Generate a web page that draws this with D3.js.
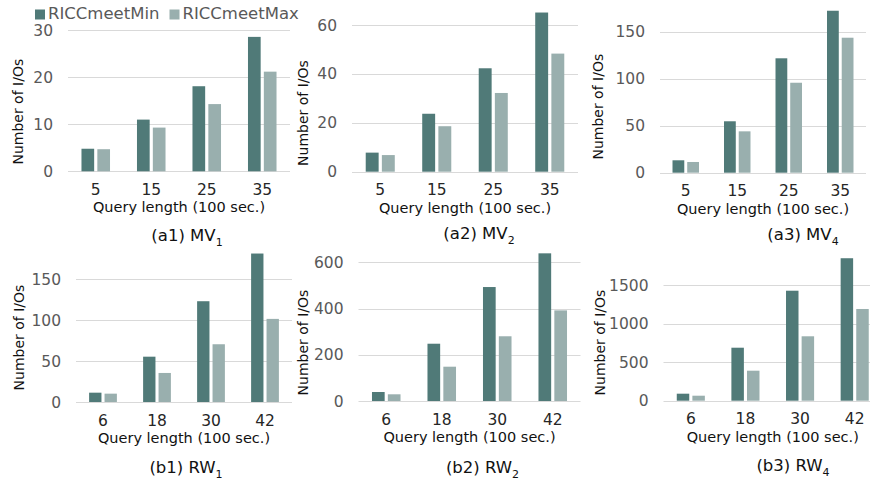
<!DOCTYPE html>
<html>
<head>
<meta charset="utf-8">
<script src="https://cdn.jsdelivr.net/npm/d3@7"></script>
<style>
  body { margin: 0; background: #fff; }
  svg { display: block; font-family: "DejaVu Sans", sans-serif; }
</style>
</head>
<body>
<div id="chart"></div>
<script>
var series = ["RICCmeetMin", "RICCmeetMax"];
var colors = ["#507a78", "#99afae"];

var catsA = ["5", "15", "25", "35"];
var catsB = ["6", "18", "30", "42"];

var mv1Min = [4.8, 11.0, 18.1, 28.6];
var mv1Max = [4.7, 9.3, 14.3, 21.2];
var mv2Min = [7.8, 23.7, 42.3, 65.1];
var mv2Max = [6.8, 18.6, 32.2, 48.3];
var mv4Min = [13.2, 54.7, 121.7, 172.3];
var mv4Max = [11.4, 44, 95.7, 143.6];
var rw1Min = [11.4, 55.4, 123.2, 181.5];
var rw1Max = [10.2, 35.5, 70.6, 101.6];
var rw2Min = [38.9, 247.8, 493, 638.8];
var rw2Max = [29, 148.4, 280, 392];
var rw4Min = [90.8, 687, 1426, 1847];
var rw4Max = [64.8, 389, 835, 1189];

var ticksA1 = [0, 10, 20, 30];
var ticksA2 = [0, 20, 40, 60];
var ticksA3 = [0, 50, 100, 150];
var ticksB1 = [0, 50, 100, 150];
var ticksB2 = [0, 200, 400, 600];
var ticksB3 = [0, 500, 1000, 1500];

var captions = [["(a1) MV", "1"], ["(a2) MV", "2"], ["(a3) MV", "4"],
                ["(b1) RW", "1"], ["(b2) RW", "2"], ["(b3) RW", "4"]];

var xTitle = "Query length (100 sec.)";
var yTitle = "Number of I/Os";

// panel layout: plot box, y-title spot, caption spot
var panels = [
  { cats: catsA, vals: [mv1Min, mv1Max], ticks: ticksA1, left: 68, right: 290, y0: 171.3, yTop: 30.3, ytX: 23, ytY: 111.7, capX: 187, capY: 241 },
  { cats: catsA, vals: [mv2Min, mv2Max], ticks: ticksA2, left: 352, right: 578, y0: 171.7, yTop: 25, ytX: 308, ytY: 113, capX: 479, capY: 239 },
  { cats: catsA, vals: [mv4Min, mv4Max], ticks: ticksA3, left: 660, right: 866, y0: 172.7, yTop: 31.7, ytX: 602.7, ytY: 106.7, capX: 803, capY: 240 },
  { cats: catsB, vals: [rw1Min, rw1Max], ticks: ticksB1, left: 76, right: 292, y0: 402, yTop: 279.3, ytX: 24, ytY: 337.5, capX: 186, capY: 473 },
  { cats: catsB, vals: [rw2Min, rw2Max], ticks: ticksB2, left: 358.5, right: 580.5, y0: 401, yTop: 262.3, ytX: 308, ytY: 342.5, capX: 482.5, capY: 473 },
  { cats: catsB, vals: [rw4Min, rw4Max], ticks: ticksB3, left: 663.5, right: 882, y0: 400.7, yTop: 285, ytX: 605, ytY: 342.5, capX: 793, capY: 471 }
];

var svg = d3.select("#chart")
  .append("svg")
  .attr("width", 870)
  .attr("height", 484);

panels.forEach(function (p, i) {
  var g = svg.append("g");

  var x0 = d3.scaleBand().domain(p.cats).range([p.left, p.right]).padding(0);
  var x1 = d3.scaleBand().domain(series).range([0, x0.bandwidth()])
    .paddingInner(0.2).paddingOuter(0.85);
  var y = d3.scaleLinear().domain([0, d3.max(p.ticks)]).range([p.y0, p.yTop]);

  // gridlines
  g.selectAll("line.grid")
    .data(p.ticks)
    .enter()
    .append("line")
    .attr("class", "grid")
    .attr("x1", p.left)
    .attr("x2", p.right)
    .attr("y1", function (d) { return Math.round(y(d)) + 0.5; })
    .attr("y2", function (d) { return Math.round(y(d)) + 0.5; })
    .attr("stroke", "#d9d9d9")
    .attr("stroke-width", 1);

  // y tick labels
  g.selectAll("text.ytick")
    .data(p.ticks)
    .enter()
    .append("text")
    .attr("class", "ytick")
    .attr("x", p.left - 15)
    .attr("y", function (d) { return y(d); })
    .attr("dy", "0.36em")
    .attr("text-anchor", "end")
    .style("font-size", "15.5px")
    .style("fill", "#595959")
    .text(function (d) { return d; });

  // bars
  var rows = p.cats.map(function (c, j) {
    return { cat: c, items: series.map(function (s, k) { return { s: s, v: p.vals[k][j], k: k }; }) };
  });

  var grp = g.selectAll("g.grp")
    .data(rows)
    .enter()
    .append("g")
    .attr("class", "grp")
    .attr("transform", function (d) { return "translate(" + x0(d.cat) + ",0)"; });

  grp.selectAll("rect")
    .data(function (d) { return d.items; })
    .enter()
    .append("rect")
    .attr("x", function (d) { return x1(d.s); })
    .attr("width", x1.bandwidth())
    .attr("y", function (d) { return y(d.v); })
    .attr("height", function (d) { return p.y0 - y(d.v); })
    .style("fill", function (d) { return colors[d.k]; });

  // x tick labels
  g.selectAll("text.xtick")
    .data(p.cats)
    .enter()
    .append("text")
    .attr("class", "xtick")
    .attr("x", function (d) { return x0(d) + x0.bandwidth() / 2; })
    .attr("y", p.y0 + 23.5)
    .attr("text-anchor", "middle")
    .style("font-size", "15.5px")
    .style("fill", "#262626")
    .text(function (d) { return d; });

  g.append("text")
    .attr("x", (p.left + p.right) / 2)
    .attr("y", p.y0 + 41)
    .attr("text-anchor", "middle")
    .style("font-size", "14.5px")
    .style("fill", "#111")
    .text(xTitle);

  g.append("text")
    .attr("transform", "translate(" + p.ytX + "," + p.ytY + ") rotate(-90)")
    .attr("text-anchor", "middle")
    .style("font-size", "14px")
    .style("fill", "#111")
    .text(yTitle);

  var cap = g.append("text")
    .attr("x", p.capX)
    .attr("y", p.capY)
    .attr("text-anchor", "middle")
    .style("font-size", "16.5px")
    .style("fill", "#111");
  cap.append("tspan").text(captions[i][0]);
  cap.append("tspan").attr("dy", 5).style("font-size", "11px").text(captions[i][1]);
});

// legend
var lx = 35;
series.forEach(function (s, k) {
  svg.append("rect")
    .attr("x", lx)
    .attr("y", 9.5)
    .attr("width", 10)
    .attr("height", 10)
    .style("fill", colors[k]);
  var t = svg.append("text")
    .attr("x", lx + 13)
    .attr("y", 19.3)
    .style("font-size", "16.5px")
    .style("fill", "#595959")
    .text(s);
  lx = lx + 13 + t.node().getComputedTextLength() + 10;
});
</script>
</body>
</html>
